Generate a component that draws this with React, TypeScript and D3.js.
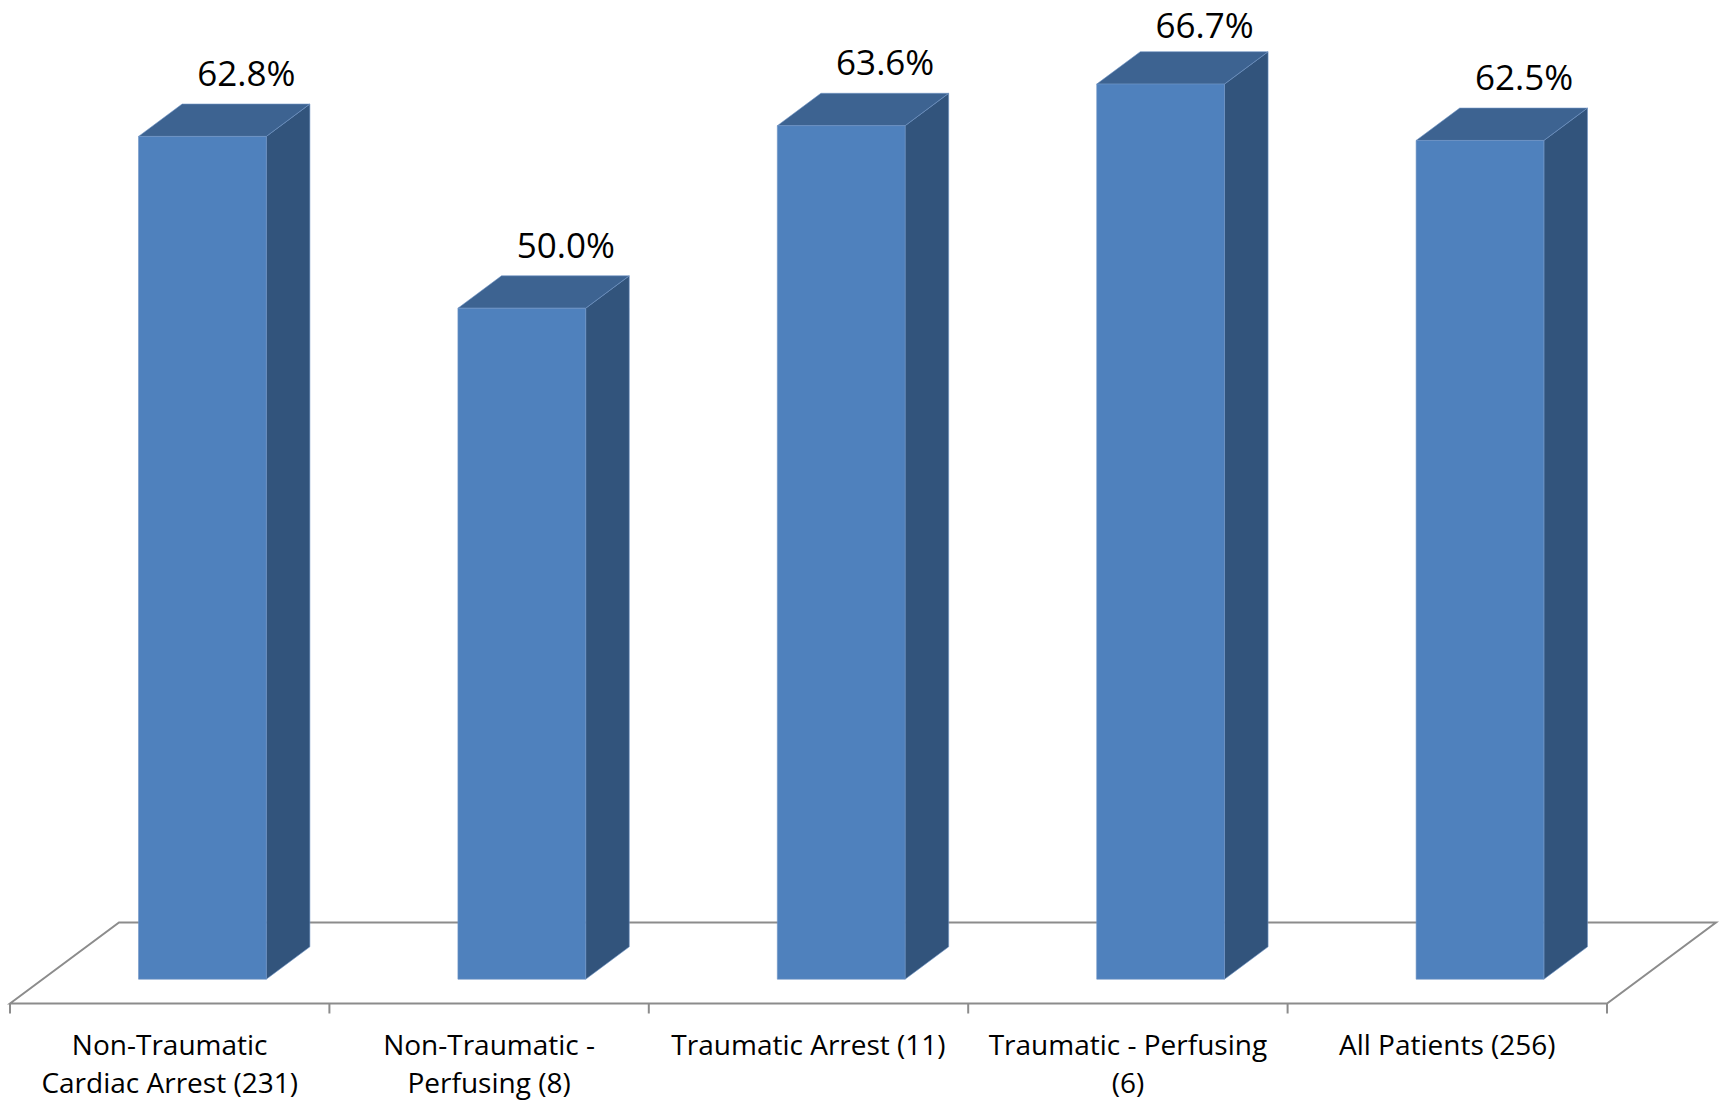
import React from 'react';
import * as d3 from 'd3';

// Category axis labels (full names and their wrapped lines)
const categories = [
  'Non-Traumatic Cardiac Arrest (231)',
  'Non-Traumatic - Perfusing (8)',
  'Traumatic Arrest (11)',
  'Traumatic - Perfusing (6)',
  'All Patients (256)',
];
const categoryLines = [
  ['Non-Traumatic', 'Cardiac Arrest (231)'],
  ['Non-Traumatic -', 'Perfusing (8)'],
  ['Traumatic Arrest (11)'],
  ['Traumatic - Perfusing', '(6)'],
  ['All Patients (256)'],
];

// Percentage for each group
const percentValues = [62.8, 50.0, 63.6, 66.7, 62.5];

const W = 1723;
const H = 1102;

// 3D floor geometry
const floorFrontY = 1003.5;
const floorDX = 109;
const floorDY = 81;
const zFront = 0.3;
const zBack = 0.7;

const FONT = '"Open Sans", "Noto Sans", sans-serif';

const colors = {
  front: '#4F81BD',
  top: '#3D6391',
  side: '#32547C',
  edge: '#6F93C4',
  floor: '#8C8C8C',
};

export default function App() {
  const x = d3
    .scaleBand<string>()
    .domain(categories)
    .range([10, 1607])
    .paddingInner(0)
    .paddingOuter(0);

  const y = d3.scaleLinear().domain([0, 70]).range([0, 939.4]);

  const band = x.bandwidth();
  const barW = band * 0.4;

  const proj = (xv: number, z: number, h: number): [number, number] => [
    xv + z * floorDX,
    floorFrontY - z * floorDY - h,
  ];
  const poly = (pts: [number, number][]) =>
    pts.map((p) => `${p[0].toFixed(2)},${p[1].toFixed(2)}`).join(' ');

  const [x0, x1] = x.range();
  const floorPts: [number, number][] = [
    proj(x0, 0, 0),
    proj(x0, 1, 0),
    proj(x1, 1, 0),
    proj(x1, 0, 0),
  ];

  const tickXs = [...categories.map((c) => x(c) as number), x1];

  return (
    <svg
      width={W}
      height={H}
      viewBox={`0 0 ${W} ${H}`}
      style={{ position: 'absolute', left: 0, top: 0, background: '#fff' }}
    >
      <rect x={0} y={0} width={W} height={H} fill="#fff" />
      {/* floor */}
      <polygon
        points={poly(floorPts)}
        fill="none"
        stroke={colors.floor}
        strokeWidth={2}
        strokeLinejoin="miter"
      />
      {/* category ticks */}
      {tickXs.map((tx, i) => (
        <line
          key={`t${i}`}
          x1={tx}
          x2={tx}
          y1={floorFrontY}
          y2={floorFrontY + 10}
          stroke={colors.floor}
          strokeWidth={2}
        />
      ))}
      {/* bars */}
      {categories.map((c, i) => {
        const h = y(percentValues[i]);
        const xl = (x(c) as number) + (band - barW) / 2;
        const xr = xl + barW;
        const front = [proj(xl, zFront, 0), proj(xr, zFront, 0), proj(xr, zFront, h), proj(xl, zFront, h)];
        const top = [proj(xl, zFront, h), proj(xr, zFront, h), proj(xr, zBack, h), proj(xl, zBack, h)];
        const side = [proj(xr, zFront, 0), proj(xr, zBack, 0), proj(xr, zBack, h), proj(xr, zFront, h)];
        const frontCenter = proj(xl + barW / 2, zFront, h)[0];
        const backTopY = proj(xl, zBack, h)[1];
        // keep the value label inside the drawing area
        const labelY = Math.max(backTopY - 18, 38);
        return (
          <g key={c}>
            <polygon points={poly(side as any)} fill={colors.side} stroke={colors.edge} strokeWidth={0.6} />
            <polygon points={poly(top as any)} fill={colors.top} stroke={colors.edge} strokeWidth={0.6} />
            <polygon points={poly(front as any)} fill={colors.front} stroke={colors.edge} strokeWidth={0.6} />
            <text
              x={frontCenter + 44}
              y={labelY}
              textAnchor="middle"
              fontFamily={FONT}
              fontSize={35}
              fill="#000"
            >
              {`${percentValues[i].toFixed(1)}%`}
            </text>
          </g>
        );
      })}
      {/* category labels */}
      {categories.map((c, i) => {
        const cx = (x(c) as number) + band / 2;
        return (
          <text key={`l${i}`} textAnchor="middle" fontFamily={FONT} fontSize={28} fill="#000">
            {categoryLines[i].map((line, j) => (
              <tspan key={j} x={cx} y={1055 + j * 38}>
                {line}
              </tspan>
            ))}
          </text>
        );
      })}
    </svg>
  );
}
